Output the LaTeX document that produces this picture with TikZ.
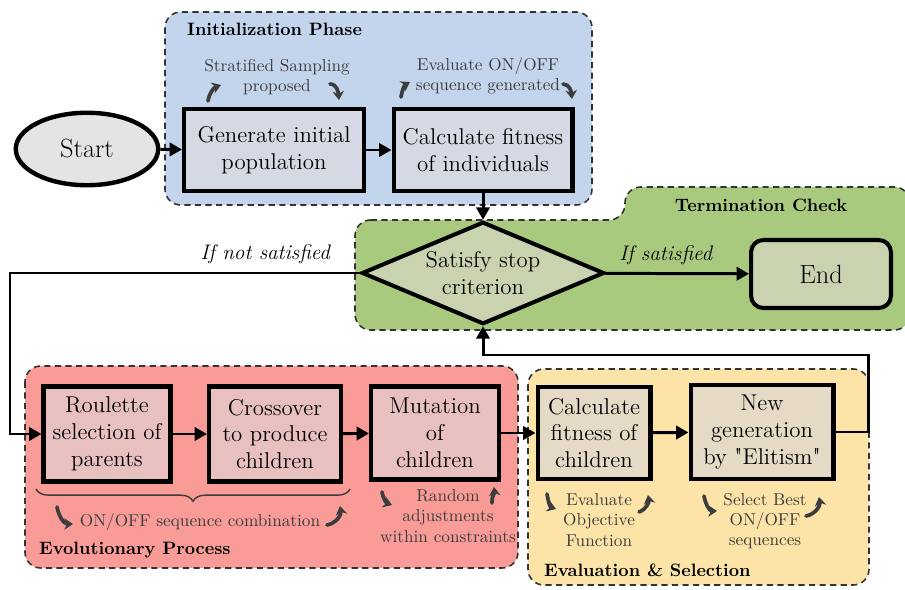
\documentclass[tikz,border=0pt]{standalone}
\usetikzlibrary{shapes.geometric, arrows.meta, positioning, decorations.pathreplacing}
\definecolor{initblue}{HTML}{C3D5EC}
\definecolor{initbox}{HTML}{D5D9E3}
\definecolor{startgray}{HTML}{E4E4E4}
\definecolor{termgreen}{HTML}{A9C97F}
\definecolor{termbox}{HTML}{C9D3B0}
\definecolor{evored}{HTML}{F99C98}
\definecolor{evobox}{HTML}{E8C0BF}
\definecolor{evalyellow}{HTML}{FCE3A8}
\definecolor{evalbox}{HTML}{E4DAC6}
\definecolor{notegray}{HTML}{3C3C3C}

\tikzset{
  phase/.style={draw=black!80, line width=0.9pt, dash pattern=on 3.5pt off 2.5pt, rounded corners=9pt},
  phasetitle/.style={font=\fontsize{10.2}{12}\selectfont\bfseries},
  procbox/.style={rectangle, draw, line width=2.3pt, align=center, inner sep=1pt, font=\fontsize{13}{15.3}\selectfont},
  conn/.style={line width=1.7pt, -{Triangle[length=7pt,width=7.5pt]}},
  note/.style={align=center, text=notegray, inner sep=1pt, font=\fontsize{9.8}{11.6}\selectfont},
  hint/.style={draw=notegray, line width=2.1pt, line cap=round, -{Stealth[length=5pt,width=6.5pt]}},
  cond/.style={font=\fontsize{12}{14}\selectfont\itshape},
}

\begin{document}
\begin{tikzpicture}[x=0.02cm, y=-0.02cm]
\useasboundingbox (0,0) rectangle (905,590);

% phase areas
\draw[phase, fill=initblue] (165,12) rectangle (592,205);
\draw[phase, fill=termgreen] (355,220) -- (625,220) -- (625,187) -- (910,187) -- (910,330) -- (355,330) -- cycle;
\draw[phase, fill=evored] (25,366) rectangle (518,568);
\draw[phase, fill=evalyellow] (528,369) rectangle (869,585);

\node[phasetitle, anchor=west] (tinit) at (181,29) {Initialization Phase};
\node[phasetitle] (tterm) at (761,205) {Termination Check};
\node[phasetitle, anchor=west] (tevo) at (33,550) {Evolutionary Process};
\node[phasetitle, anchor=west] (teval) at (538,570) {Evaluation \& Selection};

% main steps
\node[ellipse, draw, line width=2.5pt, fill=startgray, minimum width=2.85cm, minimum height=1.45cm, font=\fontsize{15}{17}\selectfont] (start) at (87,149) {Start};
\node[procbox, fill=initbox, minimum width=3.6cm, minimum height=1.65cm] (gen) at (274,150) {Generate initial\\population};
\node[procbox, fill=initbox, minimum width=3.58cm, minimum height=1.65cm] (fit) at (483,150) {Calculate fitness\\of individuals};
\node[diamond, aspect=2.4, draw, line width=2.3pt, fill=termbox, minimum width=4.85cm, minimum height=2.05cm, align=center, inner sep=0pt, font=\fontsize{13}{15.3}\selectfont] (stop) at (483,273) {Satisfy stop\\criterion};
\node[procbox, rounded corners=7pt, fill=termbox, minimum width=2.8cm, minimum height=1.36cm, font=\fontsize{15}{17}\selectfont] (end) at (821,274) {End};
\node[procbox, fill=evobox, minimum width=2.54cm, minimum height=1.9cm] (roul) at (107,434) {Roulette\\selection of\\parents};
\node[procbox, fill=evobox, minimum width=2.64cm, minimum height=1.9cm] (cross) at (275,434) {Crossover\\to produce\\children};
\node[procbox, fill=evobox, minimum width=2.56cm, minimum height=1.86cm] (mut) at (435,433) {Mutation\\of\\children};
\node[procbox, fill=evalbox, minimum width=2.26cm, minimum height=1.84cm] (fitc) at (594,433) {Calculate\\fitness of\\children};
\node[procbox, fill=evalbox, minimum width=2.86cm, minimum height=1.88cm] (newg) at (762,432) {New\\generation\\by \textquotedbl Elitism\textquotedbl};

% notes
\node[note] (nsamp) at (277,77) {Stratified Sampling\\proposed};
\node[note] (neval) at (488,76) {Evaluate ON/OFF\\sequence generated};
\node[note] (ncomb) at (200,522) {ON/OFF sequence combination};
\node[note] (nrand) at (448,516) {Random\\adjustments\\within constraints};
\node[note] (nobj) at (599,520) {Evaluate\\Objective\\Function};
\node[note] (nbest) at (765,521) {Select Best\\ON/OFF\\sequences};

\draw[hint] (208,101) to[out=80, in=200] (221,85);
\draw[hint] (330,84) to[out=0, in=95] (339,100);
\draw[hint] (401,97) to[out=80, in=210] (410,82);
\draw[hint] (563,84) to[out=0, in=95] (572,99);
\draw[hint] (57,507) to[out=-80, in=180] (73,524);
\draw[hint] (327,525) to[out=10, in=-80] (340,506);
\draw[hint] (382,492) to[out=-80, in=160] (392,505);
\draw[hint] (492,503) to[out=95, in=-85] (494,487);
\draw[hint] (547,494) to[out=-80, in=160] (556,509);
\draw[hint] (639,512) to[out=20, in=-80] (648,495);
\draw[hint] (704,496) to[out=-80, in=180] (717,511);
\draw[hint] (806,516) to[out=10, in=-80] (819,497);

\draw[draw=notegray, line width=0.8pt, decorate, decoration={brace, mirror, amplitude=7pt}] (36,489) -- (350,489);

% flow
\draw[conn] (start) -- (gen);
\draw[conn] (gen) -- (fit);
\draw[conn] (fit) -- (stop);
\draw[conn] (stop) -- node[cond, above, pos=0.42, yshift=1pt] {If satisfied} (end);
\coordinate (loopl) at (10,273);
\draw[conn] (stop.west) -- node[cond, above, pos=0.27, yshift=1pt] {If not satisfied} (loopl) |- (roul.west);
\draw[conn] (roul) -- (cross);
\draw[conn] (cross) -- (mut);
\draw[conn] (mut) -- (fitc);
\draw[conn] (fitc) -- (newg);
\coordinate (ret) at (868,355);
\draw[conn] (newg.east) -| (ret) -- (stop.south |- ret) -- (stop.south);
\end{tikzpicture}
\end{document}
